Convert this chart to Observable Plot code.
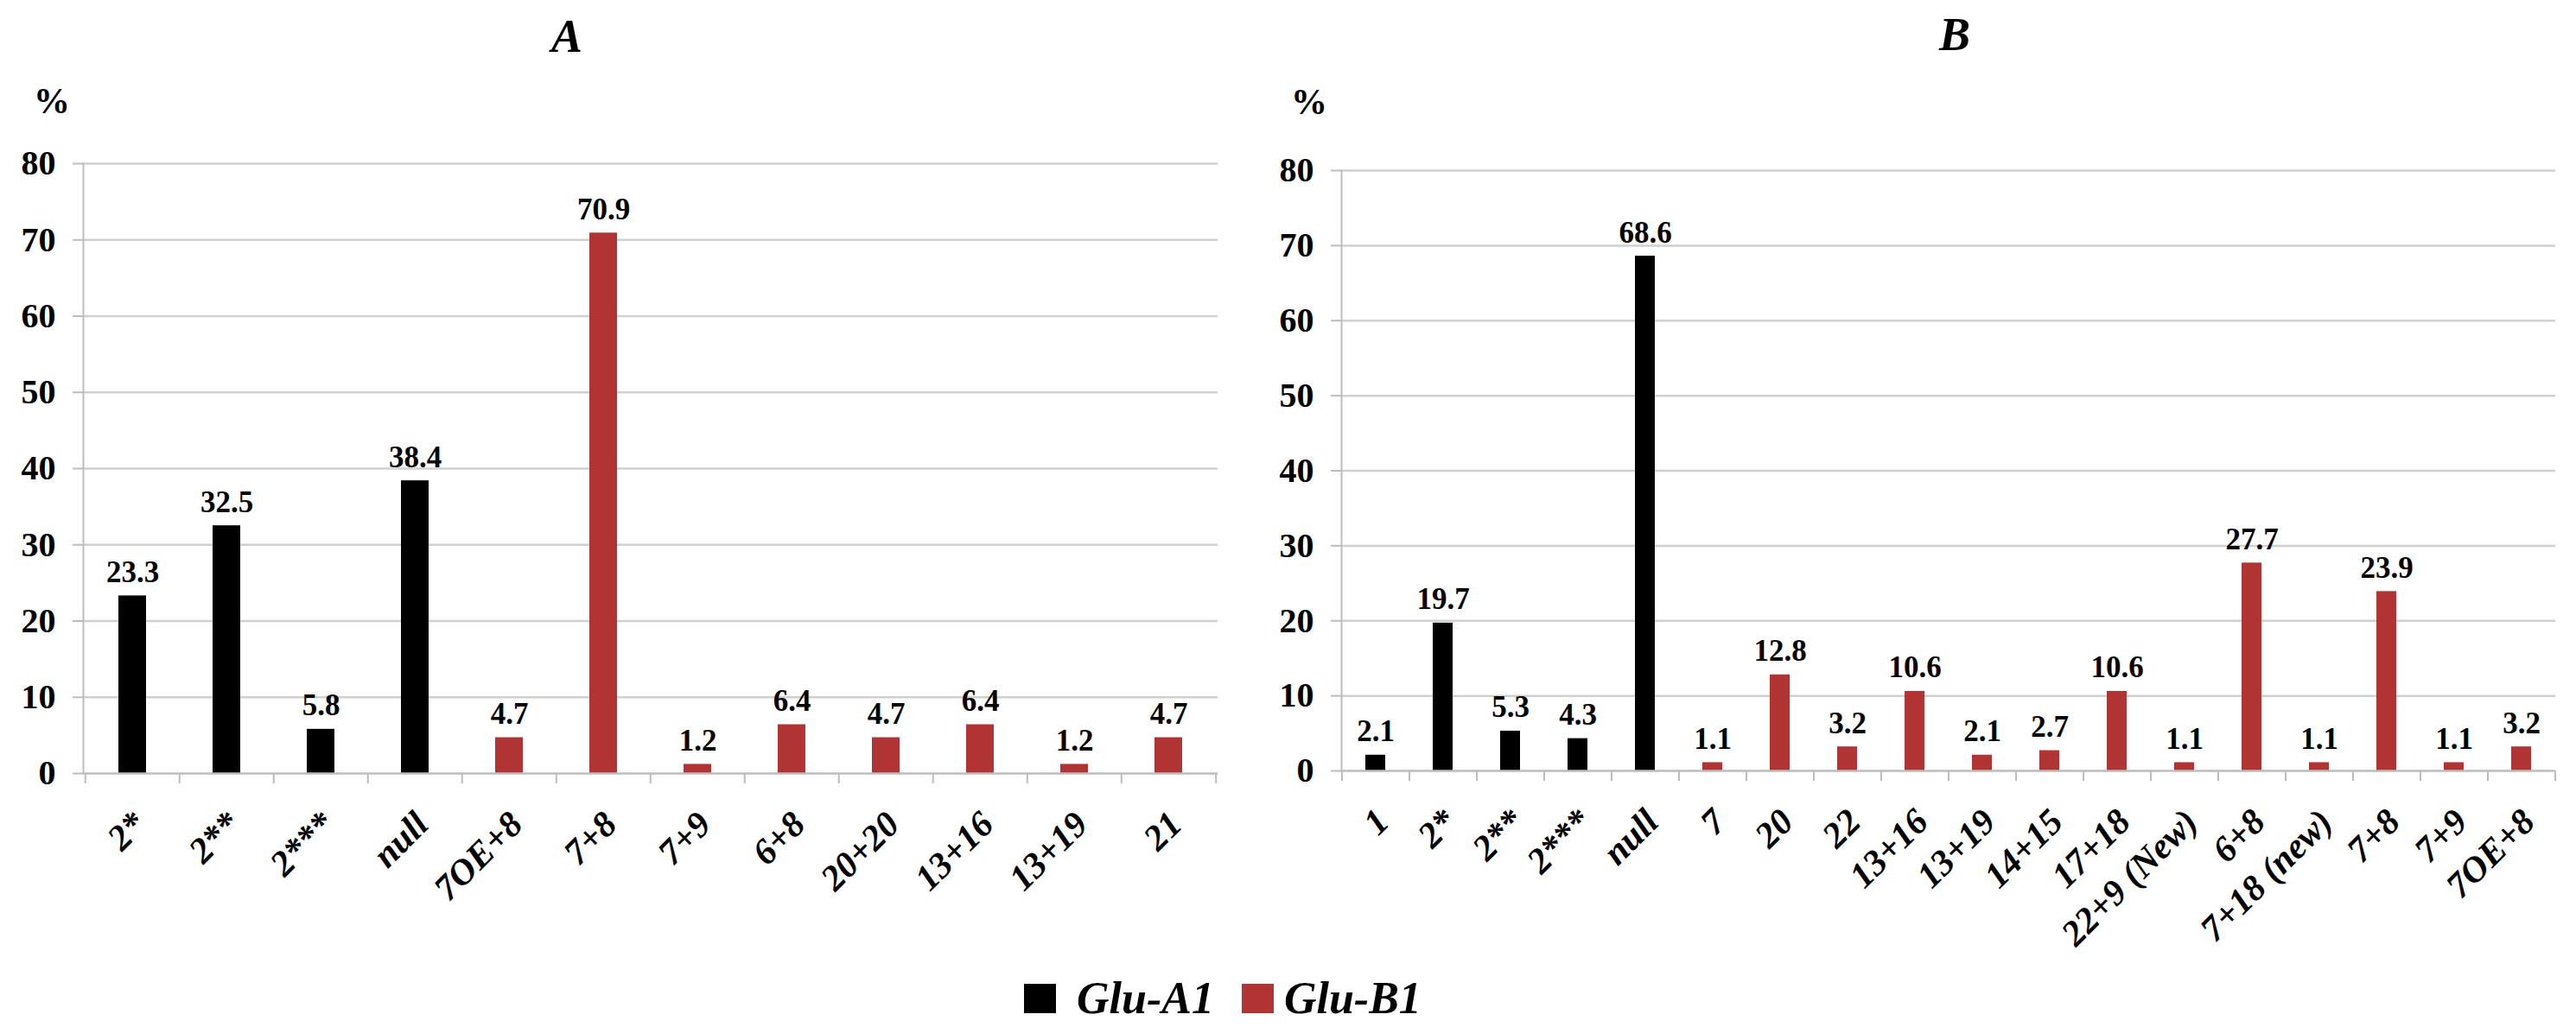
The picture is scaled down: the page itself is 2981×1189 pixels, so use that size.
<!DOCTYPE html>
<html>
<head>
<meta charset="utf-8">
<script src="https://cdn.jsdelivr.net/npm/d3@7"></script>
<script src="https://cdn.jsdelivr.net/npm/@observablehq/plot@0.6"></script>
<style>
  html, body { margin: 0; padding: 0; background: #fff; }
  #wrap { position: relative; width: 2981px; height: 1189px; overflow: hidden; font-family: "Liberation Serif", "Times New Roman", serif; }
  .abs { position: absolute; }
  .title { font-size: 54px; font-weight: bold; font-style: italic; transform: translate(-50%, -50%); }
  .pct { font-size: 42px; font-weight: bold; transform: translate(-50%, -50%); }
  #legend { position: absolute; top: 1126px; left: 1185px; display: flex; align-items: center; font-size: 52px; font-weight: bold; font-style: italic; }
  .sw { width: 37px; height: 34px; display: inline-block; }
</style>
</head>
<body>
<div id="wrap">
  <div class="abs title" style="left:656px; top:42px;">A</div>
  <div class="abs title" style="left:2262px; top:40px;">B</div>
  <div class="abs pct" style="left:60px; top:117px;">%</div>
  <div class="abs pct" style="left:1515px; top:118px;">%</div>
  <div id="chartA" class="abs" style="left:0; top:0;"></div>
  <div id="chartB" class="abs" style="left:1450px; top:0;"></div>
  <div id="legend">
    <span class="sw" style="background:#000;"></span><span style="margin-left:24px;">Glu-A1</span>
    <span class="sw" style="background:#b03434; margin-left:32px;"></span><span style="margin-left:12px;">Glu-B1</span>
  </div>
</div>
<script>
// ---- data ----
const catsA = ["2*", "2**", "2***", "null", "7OE+8", "7+8", "7+9", "6+8", "20+20", "13+16", "13+19", "21"];
const valuesA = [23.3, 32.5, 5.8, 38.4, 4.7, 70.9, 1.2, 6.4, 4.7, 6.4, 1.2, 4.7];
const locusA = ["Glu-A1", "Glu-A1", "Glu-A1", "Glu-A1", "Glu-B1", "Glu-B1", "Glu-B1", "Glu-B1", "Glu-B1", "Glu-B1", "Glu-B1", "Glu-B1"];

const catsB = ["1", "2*", "2**", "2***", "null", "7", "20", "22", "13+16", "13+19", "14+15", "17+18", "22+9 (New)", "6+8", "7+18 (new)", "7+8", "7+9", "7OE+8"];
const valuesB = [2.1, 19.7, 5.3, 4.3, 68.6, 1.1, 12.8, 3.2, 10.6, 2.1, 2.7, 10.6, 1.1, 27.7, 1.1, 23.9, 1.1, 3.2];
const locusB = ["Glu-A1", "Glu-A1", "Glu-A1", "Glu-A1", "Glu-A1", "Glu-B1", "Glu-B1", "Glu-B1", "Glu-B1", "Glu-B1", "Glu-B1", "Glu-B1", "Glu-B1", "Glu-B1", "Glu-B1", "Glu-B1", "Glu-B1", "Glu-B1"];

const yTicks = [0, 10, 20, 30, 40, 50, 60, 70, 80];
const loci = ["Glu-A1", "Glu-B1"];
const lociColors = ["#000000", "#b03434"];

const GRID = "#d0d0d0";
const AXIS = "#bdbdbd";

function makeChart(cats, values, locus, cfg) {
  const data = cats.map((c, i) => ({cat: c, value: values[i], locus: locus[i]}));
  const plotW = cfg.width - cfg.marginLeft - cfg.marginRight;
  const plotH = cfg.height - cfg.marginTop - cfg.marginBottom;
  const step = plotW / cats.length;
  const tickLen = 12 * 80 / plotH;
  return Plot.plot({
    width: cfg.width,
    height: cfg.height,
    marginLeft: cfg.marginLeft,
    marginRight: cfg.marginRight,
    marginTop: cfg.marginTop,
    marginBottom: cfg.marginBottom,
    style: {fontFamily: "'Liberation Serif', 'Times New Roman', serif", background: "transparent", overflow: "visible"},
    x: {domain: cats, paddingInner: 0.71, paddingOuter: 0.355, axis: null},
    y: {domain: [0, 80], axis: null},
    color: {domain: loci, range: lociColors},
    marks: [
      Plot.ruleY(yTicks.filter(d => d > 0), {stroke: GRID, strokeWidth: 2.5}),
      Plot.axisY({ticks: yTicks, label: null, tickSize: 12, tickPadding: 20, stroke: AXIS, strokeWidth: 2, fill: "black", fontSize: 40, fontWeight: "bold", tickFormat: d => String(d)}),
      Plot.frame({anchor: "left", stroke: AXIS, strokeWidth: 2}),
      Plot.ruleX(cats, {x: d => d, y1: 0, y2: -tickLen, dx: -step / 2, stroke: AXIS, strokeWidth: 2}),
      Plot.ruleX([cats[cats.length - 1]], {x: d => d, y1: 0, y2: -tickLen, dx: step / 2, stroke: AXIS, strokeWidth: 2}),
      Plot.barY(data, {x: "cat", y: "value", fill: "locus"}),
      Plot.ruleY([0], {stroke: AXIS, strokeWidth: 2.5}),
      Plot.text(data, {x: "cat", y: "value", text: d => d.value.toFixed(1), dy: -16, lineAnchor: "bottom", fontSize: 35, fontWeight: "bold", fill: "black"}),
      Plot.text(data, {x: "cat", text: "cat", frameAnchor: "bottom", rotate: -45, textAnchor: "end", lineAnchor: "middle", dx: 8, dy: 52, fontSize: 42, fontWeight: "bold", fontStyle: "italic", fill: "black"})
    ]
  });
}

document.getElementById("chartA").appendChild(makeChart(catsA, valuesA, locusA, {
  width: 1450, height: 1100, marginLeft: 96, marginRight: 41, marginTop: 189, marginBottom: 205
}));
document.getElementById("chartB").appendChild(makeChart(catsB, valuesB, locusB, {
  width: 1531, height: 1100, marginLeft: 102, marginRight: 24, marginTop: 197, marginBottom: 208
}));
</script>
</body>
</html>
